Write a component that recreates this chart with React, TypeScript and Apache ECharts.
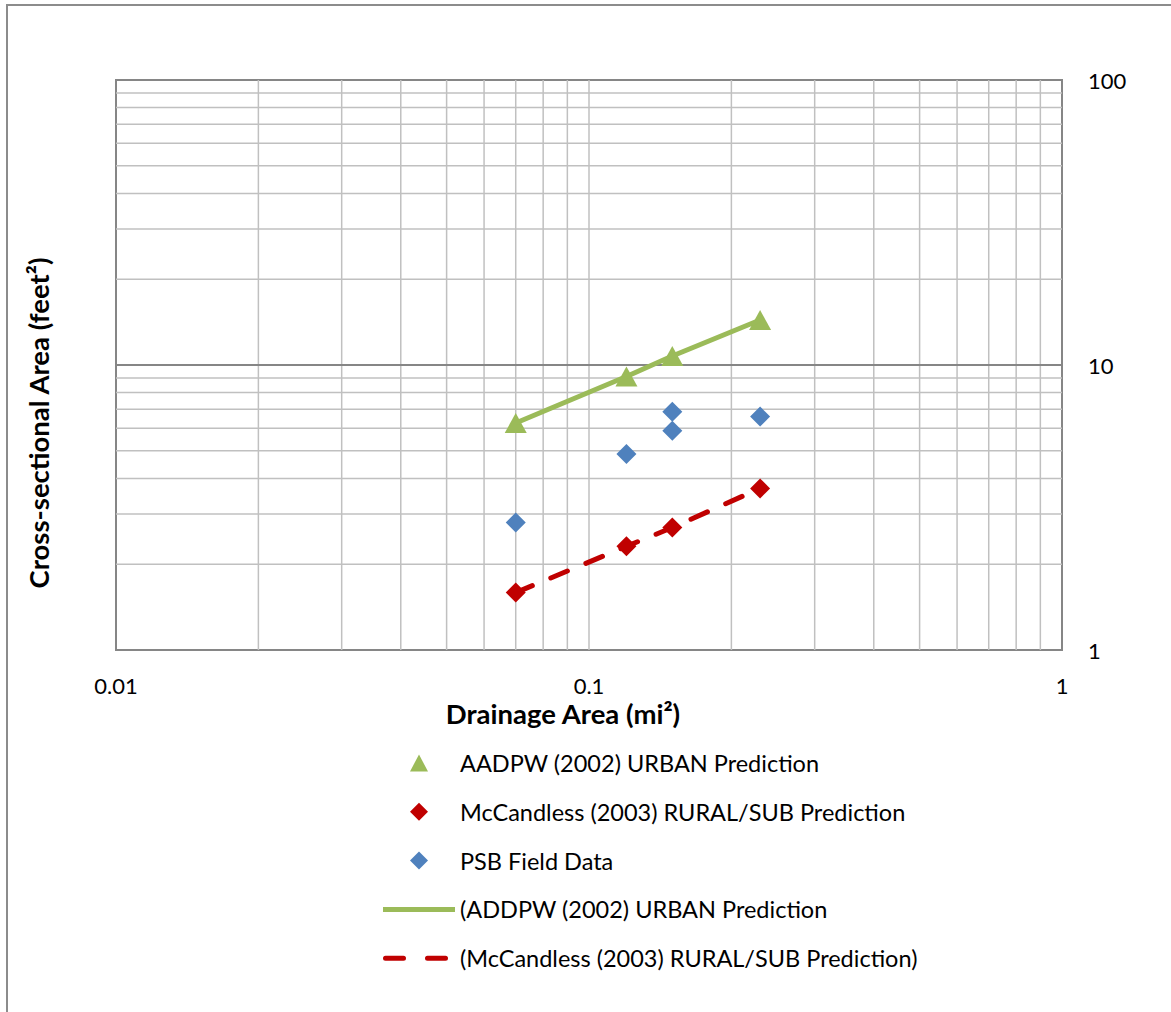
import React, { useEffect, useRef } from "react";
import * as echarts from "echarts";

const urbanX = [0.07, 0.12, 0.15, 0.23];
const urbanY = [6.26, 9.11, 10.75, 14.38];
const ruralX = [0.07, 0.12, 0.15, 0.23];
const ruralY = [1.59, 2.31, 2.69, 3.69];
const psbX = [0.07, 0.12, 0.15, 0.15, 0.23];
const psbY = [2.8, 4.87, 6.86, 5.88, 6.59];
const minorX = [0.02, 0.03, 0.04, 0.05, 0.06, 0.07, 0.08, 0.09, 0.1, 0.2, 0.3, 0.4, 0.5, 0.6, 0.7, 0.8, 0.9];
const minorY = [2, 3, 4, 5, 6, 7, 8, 9, 20, 30, 40, 50, 60, 70, 80, 90];
const majorY = [10];

const names = [
  "AADPW (2002) URBAN Prediction",
  "McCandless (2003) RURAL/SUB Prediction",
  "PSB Field Data",
  "(ADDPW (2002) URBAN Prediction",
  "(McCandless (2003) RURAL/SUB Prediction)",
];

const FONT = "Lato";

// legend icons (72 x 18 box kept by the leading move-to points)
const BOX = "M0,0M72,18";
const ICON_TRI = "path://" + BOX + "M27,17.5L36,0.5L45,17.5Z";
const ICON_DIA = "path://" + BOX + "M36,0L45,9L36,18L27,9Z";
const ICON_SOLID = "path://" + BOX + "M0,6.5L72,6.5L72,11.5L0,11.5Z";
const ICON_DASH =
  "path://" + BOX + "M2.5,6.5L20.5,6.5A2.5,2.5,0,0,1,20.5,11.5L2.5,11.5A2.5,2.5,0,0,1,2.5,6.5Z" +
  "M44.5,6.5L62.5,6.5A2.5,2.5,0,0,1,62.5,11.5L44.5,11.5A2.5,2.5,0,0,1,44.5,6.5Z";

export default function App() {
  const ref = useRef<HTMLDivElement>(null);
  useEffect(() => {
    const chart = echarts.init(ref.current!, null, { renderer: "svg" });
    const zip = (xs: number[], ys: number[]) => xs.map((x, i) => [x, ys[i]]);
    const gridData: number[][] = [
      ...minorX.map((v) => [v, 1, 0]),
      ...minorY.map((v) => [0.01, v, 1]),
      ...majorY.map((v) => [0.01, v, 2]),
    ];
    chart.setOption({
      animation: false,
      backgroundColor: "#ffffff",
      textStyle: { fontFamily: FONT },
      grid: {
        left: 116,
        top: 80,
        right: 109,
        bottom: 362,
        show: true,
        borderColor: "#868686",
        borderWidth: 2,
      },
      xAxis: {
        type: "log",
        logBase: 10,
        min: 0.01,
        max: 1,
        axisLine: { show: false },
        axisTick: { show: false },
        splitLine: { show: false },
        axisLabel: {
          margin: 24,
          fontSize: 22,
          color: "#000",
          fontFamily: FONT,
          formatter: (v: number) => String(+v.toPrecision(3)),
        },
      },
      yAxis: {
        type: "log",
        logBase: 10,
        min: 1,
        max: 100,
        position: "right",
        axisLine: { show: false },
        axisTick: { show: false },
        splitLine: { show: false },
        axisLabel: {
          margin: 26,
          fontSize: 22,
          color: "#000",
          fontFamily: FONT,
          formatter: (v: number) => String(Math.round(v)),
        },
      },
      legend: {
        orient: "vertical",
        left: 383,
        top: 751,
        padding: 0,
        itemWidth: 72,
        itemHeight: 18,
        itemGap: 24.8,
        textStyle: { fontSize: 23.5, color: "#000", fontFamily: FONT, lineHeight: 24 },
        data: [
          { name: names[0], icon: ICON_TRI },
          { name: names[1], icon: ICON_DIA },
          { name: names[2], icon: ICON_DIA },
          { name: names[3], icon: ICON_SOLID },
          { name: names[4], icon: ICON_DASH },
        ],
      },
      graphic: [
        {
          type: "rect",
          silent: true,
          shape: { x: 7, y: 5, width: 1300, height: 1200 },
          style: { fill: "none", stroke: "#8c8c8c", lineWidth: 2 },
        },
        {
          type: "text",
          x: 38,
          y: 423,
          rotation: Math.PI / 2,
          style: {
            text: "Cross-sectional Area (feet²)",
            fontSize: 27.5,
            fontWeight: "bold",
            fontFamily: FONT,
            fill: "#000",
            align: "center",
            verticalAlign: "middle",
          },
        },
        {
          type: "text",
          x: 563,
          y: 713,
          style: {
            text: "Drainage Area (mi²)",
            fontSize: 27.5,
            fontWeight: "bold",
            fontFamily: FONT,
            fill: "#000",
            align: "center",
            verticalAlign: "middle",
          },
        },
      ],
      series: [
        {
          type: "custom",
          silent: true,
          z: 0,
          data: gridData,
          renderItem: (params: any, api: any) => {
            const kind = api.value(2);
            let p1, p2;
            if (kind === 0) {
              p1 = api.coord([api.value(0), 1]);
              p2 = api.coord([api.value(0), 100]);
            } else {
              p1 = api.coord([0.01, api.value(1)]);
              p2 = api.coord([1, api.value(1)]);
            }
            return {
              type: "line",
              shape: { x1: p1[0], y1: p1[1], x2: p2[0], y2: p2[1] },
              style: {
                stroke: kind === 2 ? "#868686" : "#c0c0c0",
                lineWidth: kind === 2 ? 2 : 1.5,
              },
            };
          },
        },
        {
          name: names[0],
          type: "scatter",
          symbol: "triangle",
          symbolSize: [22, 20],
          itemStyle: { color: "#9bbb59", opacity: 1 },
          data: zip(urbanX, urbanY),
          z: 3,
        },
        {
          name: names[1],
          type: "scatter",
          symbol: "diamond",
          symbolSize: 20,
          itemStyle: { color: "#c00000", opacity: 1 },
          data: zip(ruralX, ruralY),
          z: 3,
        },
        {
          name: names[2],
          type: "scatter",
          symbol: "diamond",
          symbolSize: 20,
          itemStyle: { color: "#4f81bd", opacity: 1 },
          data: zip(psbX, psbY),
          z: 3,
        },
        {
          name: names[3],
          type: "line",
          symbol: "none",
          showSymbol: false,
          lineStyle: { color: "#9bbb59", width: 5 },
          itemStyle: { color: "#9bbb59" },
          data: zip(urbanX, urbanY),
          z: 4,
        },
        {
          name: names[4],
          type: "line",
          symbol: "none",
          showSymbol: false,
          lineStyle: { color: "#c00000", width: 5, type: [18, 20], cap: "round" },
          itemStyle: { color: "#c00000" },
          data: zip(ruralX, ruralY),
          z: 4,
        },
      ],
    });
    return () => chart.dispose();
  }, []);
  return (
    <div
      ref={ref}
      style={{ position: "absolute", left: 0, top: 0, width: 1171, height: 1012 }}
    />
  );
}
